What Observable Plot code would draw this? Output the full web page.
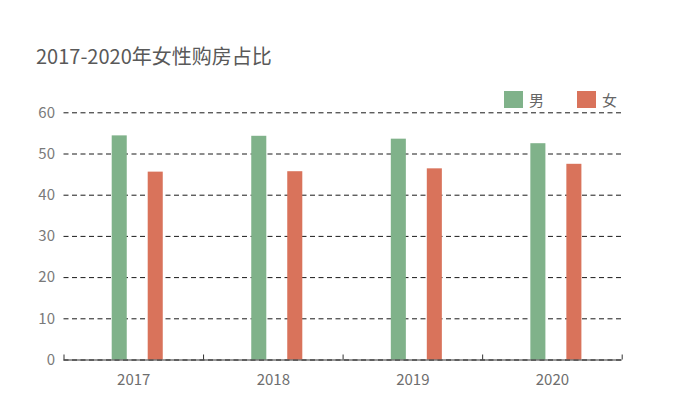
<!DOCTYPE html>
<html>
<head>
<meta charset="utf-8">
<script src="https://cdn.jsdelivr.net/npm/d3@7"></script>
<script src="https://cdn.jsdelivr.net/npm/@observablehq/plot@0.6"></script>
<style>
  html, body { margin: 0; padding: 0; background: #fff; }
  #wrap { position: relative; width: 673px; height: 416px; font-family: "Noto Sans CJK SC", "Noto Sans", sans-serif; }
  #title { position: absolute; left: 36px; top: 41px; font-size: 20px; color: #595959; line-height: 30px; white-space: nowrap; }
  .lg { position: absolute; top: 89px; display: flex; align-items: center; font-size: 15px; color: #666; }
  .sw { width: 19px; height: 17px; margin-right: 6px; }
  #chart { position: absolute; left: 0; top: 0; }
  #chart svg text { font-size: 15px; }
</style>
</head>
<body>
<div id="wrap">
  <div id="chart"></div>
  <div id="title">2017-2020年女性购房占比</div>
  <div id="legend"></div>
</div>
<script>
const years = [2017, 2018, 2019, 2020];
const male = [54.4, 54.3, 53.6, 52.5];
const female = [45.6, 45.7, 46.4, 47.5];
const seriesNames = ["男", "女"];
const seriesColors = ["#80b28a", "#d9735b"];
const yTicks = [0, 10, 20, 30, 40, 50, 60];

const maleData = years.map((y, i) => ({year: y, value: male[i]}));
const femaleData = years.map((y, i) => ({year: y, value: female[i]}));
const boundaries = [...years.map(y => y - 0.5), years[years.length - 1] + 0.5];

const plot = Plot.plot({
  width: 673,
  height: 416,
  marginLeft: 63.5,
  marginRight: 51.3,
  marginTop: 112.3,
  marginBottom: 56.5,
  style: {fontFamily: '"Noto Sans CJK SC", "Noto Sans", sans-serif', fontSize: "15px", background: "transparent", overflow: "visible"},
  x: {type: "linear", domain: [years[0] - 0.5, years[years.length - 1] + 0.5], label: null},
  y: {domain: [0, 60], label: null},
  marks: [
    Plot.ruleY(yTicks, {y: d => d, stroke: "#1a1a1a", strokeDasharray: "5,3.5", strokeWidth: 1}),
    Plot.rectY(maleData, {x1: d => d.year - 0.5, x2: d => d.year + 0.5, y: "value", fill: seriesColors[0], insetLeft: 48.2, insetRight: 76.3}),
    Plot.rectY(femaleData, {x1: d => d.year - 0.5, x2: d => d.year + 0.5, y: "value", fill: seriesColors[1], insetLeft: 84.2, insetRight: 40.3}),
    Plot.ruleY([0], {stroke: "#333", strokeWidth: 1}),
    Plot.axisX({ticks: boundaries, tickSize: -5, tickFormat: () => "", stroke: "#333", label: null}),
    Plot.axisX({ticks: years, tickSize: 0, tickPadding: 14, tickFormat: d => String(d), fill: "#6e6e6e", label: null}),
    Plot.axisY({ticks: yTicks, tickSize: 0, tickPadding: 9, fill: "#7a7a7a", label: null})
  ]
});
document.getElementById("chart").appendChild(plot);

const legend = document.getElementById("legend");
const legendLeft = [504, 577];
seriesNames.forEach((name, i) => {
  const item = document.createElement("div");
  item.className = "lg";
  item.style.left = legendLeft[i] + "px";
  item.innerHTML = `<div class="sw" style="background:${seriesColors[i]}"></div><span>${name}</span>`;
  legend.appendChild(item);
});
</script>
</body>
</html>
